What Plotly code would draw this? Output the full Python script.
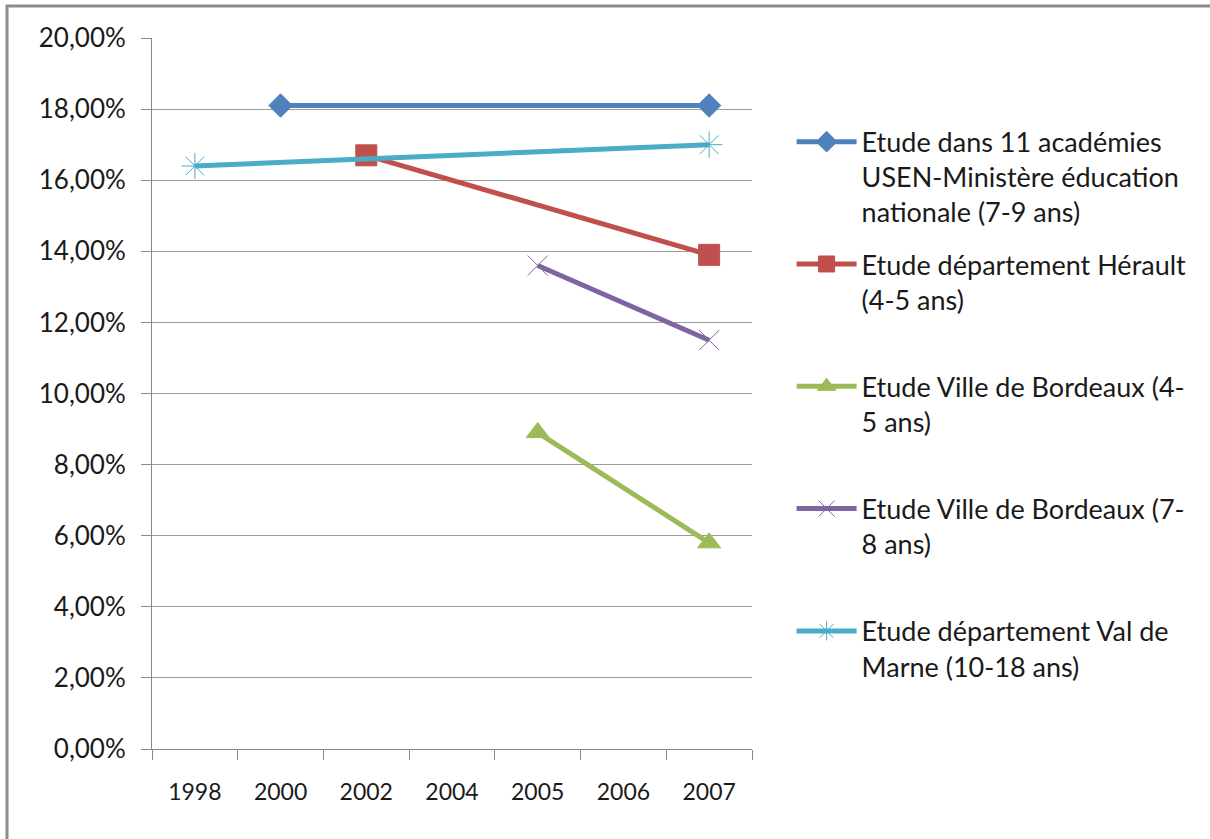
import plotly.graph_objects as go

# Survey years (category axis) and prevalence values in %
years = ["1998", "2000", "2002", "2004", "2005", "2006", "2007"]

academies_11 = [None, 18.1, None, None, None, None, 18.1]
herault = [None, None, 16.7, None, None, None, 13.9]
bordeaux_4_5 = [None, None, None, None, 8.9, None, 5.8]
bordeaux_7_8 = [None, None, None, None, 13.6, None, 11.5]
val_de_marne = [16.4, None, None, None, None, None, 17.0]

names = [
    "Etude dans 11 académies<br>USEN-Ministère éducation<br>nationale (7-9 ans)",
    "Etude département Hérault<br>(4-5 ans)<br> ",
    "Etude Ville de Bordeaux (4-<br>5 ans)<br> ",
    "Etude Ville de Bordeaux (7-<br>8 ans)<br> ",
    "Etude département Val de<br>Marne (10-18 ans)<br> ",
]

series = [academies_11, herault, bordeaux_4_5, bordeaux_7_8, val_de_marne]
colors = ["#4F81BD", "#C0504D", "#9BBB59", "#8064A2", "#4BACC6"]
symbols = ["diamond", "square", "triangle-up", "x-thin-open", "asterisk-open"]
sizes = [18, 21, 20, 20, 22]

FONT = "Lato, 'Noto Sans', sans-serif"

fig = go.Figure()
for i, (vals, name) in enumerate(zip(series, names)):
    fig.add_trace(go.Scatter(
        x=years,
        y=[None if v is None else v / 100 for v in vals],
        mode="lines+markers",
        name=name,
        legendgroup=f"g{i}",
        connectgaps=True,
        line=dict(color=colors[i], width=5),
        marker=dict(symbol=symbols[i], size=sizes[i], color=colors[i],
                    line=dict(color=colors[i], width=1)),
    ))

fig.update_layout(
    width=1210, height=839,
    margin=dict(l=152, r=458, t=38, b=90),
    paper_bgcolor="white",
    plot_bgcolor="white",
    separators=", ",
    font=dict(family=FONT, size=24, color="#1a1a1a"),
    showlegend=True,
    legend=dict(
        x=1.066, y=0.888, xanchor="left", yanchor="top",
        valign="top",
        itemwidth=60,
        tracegroupgap=14,
        font=dict(family=FONT, size=27, color="#1a1a1a"),
        bgcolor="rgba(0,0,0,0)",
    ),
    xaxis=dict(
        type="category",
        range=[-0.5, 6.5],
        tickson="boundaries",
        ticks="outside",
        ticklen=10,
        tickcolor="#8a8a8a",
        showline=True,
        linecolor="#8a8a8a",
        linewidth=1,
        showgrid=False,
        ticklabelstandoff=22,
        tickfont=dict(family=FONT, size=23, color="#1a1a1a"),
    ),
    yaxis=dict(
        range=[0, 0.2],
        dtick=0.02,
        tickformat=".2%",
        ticks="outside",
        ticklen=10,
        tickcolor="#8a8a8a",
        showline=True,
        linecolor="#8a8a8a",
        linewidth=1,
        showgrid=True,
        gridcolor="#9c9c9c",
        gridwidth=1,
        zeroline=False,
        ticklabelstandoff=10,
        tickfont=dict(family=FONT, size=26, color="#1a1a1a"),
    ),
    shapes=[dict(
        type="rect", xref="paper", yref="paper",
        x0=(7 - 152) / 600, x1=(1240 - 152) / 600,
        y0=(749 - 870) / 711, y1=(749 - 6) / 711,
        line=dict(color="#8c8c8c", width=3),
        fillcolor="rgba(0,0,0,0)",
        layer="below",
    )],
)

fig.write_html("out.html")
